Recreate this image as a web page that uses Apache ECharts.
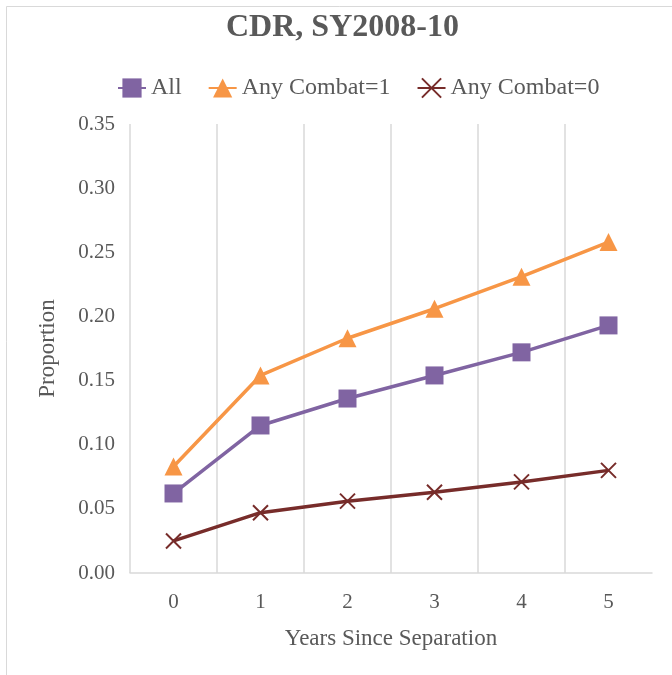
<!DOCTYPE html>
<html><head><meta charset="utf-8">
<script src="https://cdn.jsdelivr.net/npm/echarts@6/dist/echarts.min.js"></script>
<style>html,body{margin:0;padding:0;background:#fff}#c{width:672px;height:675px}</style>
</head><body><div id="c"></div>
<script>
const categories = ['0','1','2','3','4','5'];
const allValues = [0.062, 0.115, 0.136, 0.154, 0.172, 0.193];
const combat1Values = [0.083, 0.154, 0.183, 0.206, 0.231, 0.258];
const combat0Values = [0.025, 0.047, 0.056, 0.063, 0.071, 0.080];
const seriesNames = ['All', 'Any Combat=1', 'Any Combat=0'];

const FONT = '"Liberation Serif", "Times New Roman", serif';
const TXT = '#595959';
const xPath = 'path://M0,0L10,10M10,0L0,10';

const chart = echarts.init(document.getElementById('c'), null, {renderer:'canvas'});
chart.setOption({
  backgroundColor: '#fff',
  animation: false,
  graphic: [{
    type: 'rect', shape: {x: 6.5, y: 6.5, width: 700, height: 700},
    style: {fill: 'none', stroke: '#d9d9d9', lineWidth: 1}, silent: true
  }],
  title: {
    text: 'CDR, SY2008-10', left: 221, top: 7,
    textStyle: {fontFamily: FONT, fontWeight: 'bold', fontSize: 32, color: TXT}
  },
  legend: {
    top: 71, left: 112,
    itemWidth: 28, itemHeight: 24, itemGap: 26,
    textStyle: {fontFamily: FONT, fontSize: 24, color: TXT},
    data: seriesNames
  },
  grid: {left: 130, right: 20, top: 124, bottom: 102, containLabel: false},
  xAxis: {
    type: 'category', data: categories, boundaryGap: true,
    name: 'Years Since Separation', nameLocation: 'middle', nameGap: 54,
    nameTextStyle: {fontFamily: FONT, fontSize: 23, color: TXT},
    axisLine: {show: true, lineStyle: {color: '#d9d9d9', width: 1.5}},
    axisTick: {show: false},
    axisLabel: {fontFamily: FONT, fontSize: 21, color: TXT, margin: 19},
    splitLine: {show: true, showMaxLine: false, lineStyle: {color: '#d9d9d9', width: 1.5}}
  },
  yAxis: {
    type: 'value', min: 0, max: 0.35, interval: 0.05,
    name: 'Proportion', nameLocation: 'middle', nameGap: 71, nameRotate: 90,
    nameTextStyle: {fontFamily: FONT, fontSize: 23, color: TXT},
    axisLine: {show: false}, axisTick: {show: false},
    axisLabel: {fontFamily: FONT, fontSize: 21, color: TXT, margin: 15,
      formatter: v => v.toFixed(2)},
    splitLine: {show: false}
  },
  series: [
    {name: seriesNames[0], type: 'line', data: allValues, symbol: 'rect', symbolSize: 18,
     lineStyle: {color: '#8064A2', width: 3.5}, itemStyle: {color: '#8064A2'}, z: 3},
    {name: seriesNames[1], type: 'line', data: combat1Values, symbol: 'triangle', symbolSize: 18,
     lineStyle: {color: '#F79646', width: 3.5}, itemStyle: {color: '#F79646'}, z: 2},
    {name: seriesNames[2], type: 'line', data: combat0Values, symbol: xPath, symbolSize: 15,
     lineStyle: {color: '#772C2A', width: 3.5},
     itemStyle: {color: '#772C2A', borderColor: '#772C2A', borderWidth: 2}, z: 4}
  ]
});
</script></body></html>
